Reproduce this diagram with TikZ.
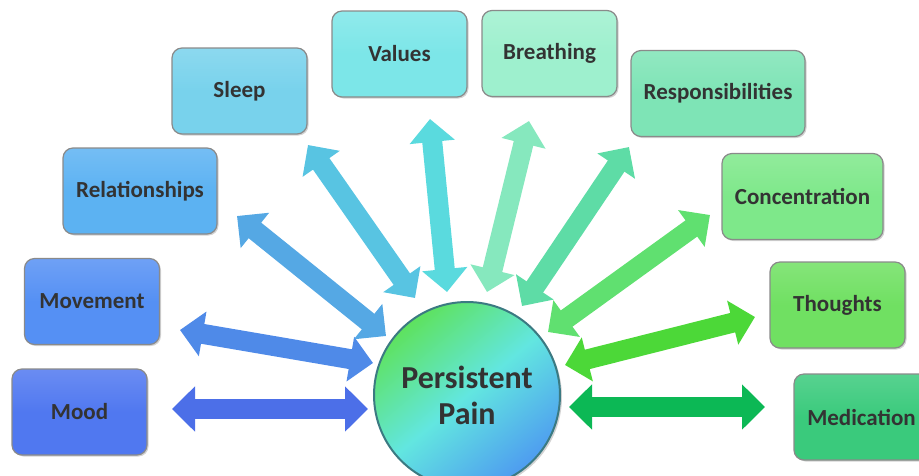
\documentclass[tikz,border=0pt]{standalone}
\usepackage{fontspec}
\setmainfont{Carlito}
\usetikzlibrary{arrows.meta,shadows}
\definecolor{txt}{HTML}{333333}
\definecolor{bxborder}{HTML}{8A8A8A}
\definecolor{cMood}{HTML}{5078F0}
\definecolor{cMove}{HTML}{5590F4}
\definecolor{cRel}{HTML}{5CB2F2}
\definecolor{cSleep}{HTML}{78D2EC}
\definecolor{cVal}{HTML}{7CE6E8}
\definecolor{cBre}{HTML}{9EF0CE}
\definecolor{cResp}{HTML}{7EE4B6}
\definecolor{cConc}{HTML}{7EE88A}
\definecolor{cTho}{HTML}{70E062}
\definecolor{cMed}{HTML}{3ACA7C}
\definecolor{aMood}{HTML}{4C6FE8}
\definecolor{aMove}{HTML}{4F8AE8}
\definecolor{aRel}{HTML}{55A8E4}
\definecolor{aSleep}{HTML}{58C4E2}
\definecolor{aVal}{HTML}{5ADADE}
\definecolor{aBre}{HTML}{86E8BE}
\definecolor{aResp}{HTML}{5EDCA6}
\definecolor{aConc}{HTML}{60E070}
\definecolor{aTho}{HTML}{4CD838}
\definecolor{aMed}{HTML}{0CB855}
\definecolor{cirA}{HTML}{5EE25E}
\definecolor{cirB}{HTML}{62E6E0}
\definecolor{cirC}{HTML}{4E9CF0}
\definecolor{cirBorder}{HTML}{3B7A82}
\tikzset{
  box/.style={draw=bxborder, line width=1.2pt, rounded corners=10pt,
    top color=#1!85!white, bottom color=#1, middle color=#1,
    drop shadow={shadow xshift=1.5pt, shadow yshift=-1.5pt, opacity=0.35},
    minimum height=86pt, minimum width=135pt, font=\bfseries\fontsize{23}{27}\selectfont,
    text=txt, inner sep=0pt},
  dbl/.style={line width=20pt, color=#1,
    {Triangle[length=23pt,width=44pt]}-{Triangle[length=23pt,width=44pt]}},
}
\begin{document}
\begin{tikzpicture}[x=1pt,y=-1pt]
\useasboundingbox (0,0) rectangle (919,475);
\clip (0,0) rectangle (919,475);
% boxes
\node[box=cMood]  (mood)  at (79.5,412) {Mood};
\node[box=cMove]  (move)  at (92,301.5) {Movement};
\node[box=cRel, minimum width=154pt]  (rel)   at (140,191) {Relationships};
\node[box=cSleep] (sleep) at (239.5,91) {Sleep};
\node[box=cVal]   (val)   at (399.5,54) {Values};
\node[box=cBre]   (bre)   at (549.5,53.5) {Breathing};
\node[box=cResp, minimum width=174pt] (resp) at (718,93.5) {Responsibilities};
\node[box=cConc, minimum width=161pt] (conc) at (802.5,196.5) {Concentration};
\node[box=cTho]   (tho)   at (837.5,305) {Thoughts};
\node[box=cMed]   (med)   at (861.5,417) {Medication};
% arrow end points
\coordinate (m1) at (172,409);  \coordinate (m2) at (368,409);
\coordinate (v1) at (180,330);  \coordinate (v2) at (373,363);
\coordinate (r1) at (237,216);  \coordinate (r2) at (386,336);
\coordinate (s1) at (308,145);  \coordinate (s2) at (415,298);
\coordinate (l1) at (430,119);  \coordinate (l2) at (447,292);
\coordinate (b1) at (529,121);  \coordinate (b2) at (487,292);
\coordinate (p1) at (629,147);  \coordinate (p2) at (522,306);
\coordinate (c1) at (710,215);  \coordinate (c2) at (548,332);
\coordinate (t1) at (755,317);  \coordinate (t2) at (565,365);
\coordinate (d1) at (569,407);  \coordinate (d2) at (765,407);
% arrows
\draw[dbl=aMood]  (m1) -- (m2);
\draw[dbl=aMove]  (v1) -- (v2);
\draw[dbl=aRel]   (r1) -- (r2);
\draw[dbl=aSleep] (s1) -- (s2);
\draw[dbl=aVal]   (l1) -- (l2);
\draw[dbl=aBre]   (b1) -- (b2);
\draw[dbl=aResp]  (p1) -- (p2);
\draw[dbl=aConc]  (c1) -- (c2);
\draw[dbl=aTho]   (t1) -- (t2);
\draw[dbl=aMed]   (d1) -- (d2);
% centre circle
\node[circle, minimum size=186pt, draw=cirBorder, line width=2pt,
  top color=cirA, bottom color=cirC, middle color=cirB, shading angle=40,
  drop shadow={shadow xshift=2pt, shadow yshift=-2pt, opacity=0.35},
  text=txt, align=center, font=\bfseries\fontsize{32}{36}\selectfont]
  (pain) at (467,395) {Persistent\\Pain};
\end{tikzpicture}
\end{document}
